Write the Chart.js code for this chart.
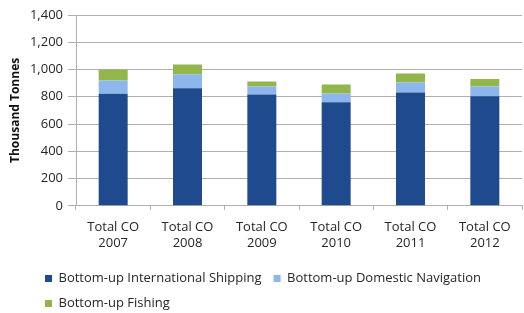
<!DOCTYPE html>
<html>
<head>
<meta charset="utf-8">
<script src="https://cdn.jsdelivr.net/npm/chart.js@4"></script>
<style>
  html, body { margin: 0; padding: 0; background: #fff; }
  #wrap { width: 524px; height: 313px; }
</style>
</head>
<body>
<div id="wrap"><canvas id="coChart"></canvas></div>
<script>
const years = ['2007', '2008', '2009', '2010', '2011', '2012'];
const categories = years.map(y => ['Total CO', y]);

const intlShipping = [822, 863, 817, 759, 832, 803];
const domesticNav = [97, 100, 58, 65, 72, 72];
const fishing = [81, 73, 37, 66, 66, 56];

const yTicks = [0, 200, 400, 600, 800, 1000, 1200, 1400];

const fontFamily = '"Open Sans", "Liberation Sans", sans-serif';

// nudge the legend so it sits indented and a bit lower, like the original
const legendShift = {
    id: 'legendShift',
    afterLayout(chart) {
        const lg = chart.legend;
        lg.left = 33;
        lg.top += 9;
        lg.bottom += 9;
    }
};

const data = {
    labels: categories,
    datasets: [{
        label: 'Bottom-up International Shipping',
        backgroundColor: '#1F4B8E',
        data: intlShipping,
    }, {
        label: 'Bottom-up Domestic Navigation',
        backgroundColor: '#8DB6EC',
        data: domesticNav,
    }, {
        label: 'Bottom-up Fishing',
        backgroundColor: '#93B64A',
        data: fishing,
    }]
};

const config = {
    type: 'bar',
    data: data,
    plugins: [legendShift],
    options: {
        responsive: true,
        maintainAspectRatio: false,
        animation: false,
        datasets: {
            bar: {
                barPercentage: 0.39,
                categoryPercentage: 1,
            }
        },
        layout: {
            padding: { left: 4, right: 2, top: 15, bottom: 2 }
        },
        plugins: {
            legend: {
                position: 'bottom',
                align: 'start',
                labels: {
                    boxWidth: 7,
                    boxHeight: 7,
                    padding: 12,
                    color: '#262626',
                    font: { family: fontFamily, size: 13 },
                }
            },
            tooltip: { enabled: false },
        },
        scales: {
            x: {
                stacked: true,
                afterFit: axis => {
                    axis.height -= 10;
                },
                grid: {
                    drawOnChartArea: false,
                    tickLength: 4,
                    color: '#b0b0b0',
                },
                border: { color: '#b0b0b0' },
                ticks: {
                    color: '#262626',
                    padding: 10,
                    font: { family: fontFamily, size: 13 },
                    maxRotation: 0,
                    autoSkip: false,
                },
            },
            y: {
                stacked: true,
                min: 0,
                max: 1400,
                afterBuildTicks: axis => {
                    axis.ticks = yTicks.map(v => ({ value: v }));
                },
                afterFit: axis => {
                    axis.width = 72;
                },
                grid: {
                    color: '#b0b0b0',
                    tickLength: 8,
                },
                border: { color: '#b0b0b0' },
                ticks: {
                    color: '#262626',
                    padding: 5,
                    font: { family: fontFamily, size: 13 },
                    callback: v => v.toLocaleString('en-US'),
                },
                title: {
                    display: true,
                    text: 'Thousand Tonnes',
                    color: '#111',
                    font: { family: fontFamily, size: 12, weight: 'bold' },
                },
            },
        },
    }
};

const coChart = new Chart(
    document.getElementById('coChart'),
    config
);
</script>
</body>
</html>
